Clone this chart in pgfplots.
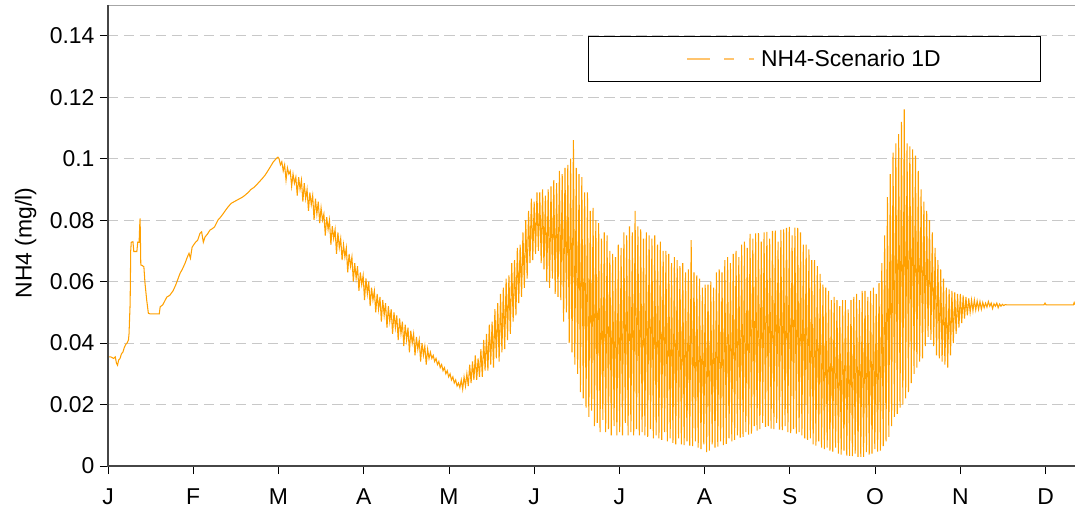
\documentclass[border=0pt]{standalone}
\usepackage{fontspec}
\setmainfont{Liberation Sans}
\usepackage{pgfplots}
\pgfplotsset{compat=1.18}
\definecolor{nhorange}{RGB}{255,160,0}
\definecolor{nhlight}{RGB}{255,196,110}
\definecolor{gridgray}{RGB}{200,200,200}
\definecolor{axisgray}{RGB}{70,70,70}

\begin{document}
\begin{tikzpicture}
\begin{axis}[
  at={(0,0)}, anchor=south west,
  scale only axis, width=967bp, height=461bp,
  xmin=0, xmax=344.9, ymin=0, ymax=0.15,
  clip=false,
  axis line style={draw=gray!70, line width=0.6bp},
  xtick={0,30.4,60.8,91.2,121.6,152,182.4,212.8,243.2,273.6,304,334.4},
  xticklabels={J,F,M,A,M,J,J,A,S,O,N,D},
  ytick={0,0.02,0.04,0.06,0.08,0.1,0.12,0.14},
  yticklabels={0,0.02,0.04,0.06,0.08,0.1,0.12,0.14},
  xtick pos=left, ytick pos=left,
  tick align=outside, major tick length=8bp,
  tick style={draw=black, line width=0.8bp},
  ymajorgrids,
  grid style={draw=gridgray, line width=0.8bp, dash pattern=on 10.5bp off 5.5bp},
  font=\fontsize{23}{27}\selectfont,
  tick label style={font=\fontsize{23}{27}\selectfont},
  x tick label style={yshift=-11bp},
  y tick label style={xshift=-2bp},
  ylabel={NH4 (mg/l)},
  ylabel style={at={(axis description cs:-0.085,0.484)}, anchor=center},
  legend style={at={(axis description cs:0.4964,0.9317)}, anchor=north west,
    draw=black, line width=0.8bp, inner xsep=98bp, inner ysep=11bp,
    font=\fontsize{23}{27}\selectfont},
]
\addplot[nhorange, line width=1.05bp, mark=none,
  legend image code/.code={
    \draw[nhlight, line width=1.5bp] (0bp,0bp) -- (23bp,0bp) (37bp,0bp) -- (47bp,0bp) (62bp,0bp) -- (67bp,0bp);
    \path[draw=none] (0bp,0bp) -- (72bp,0bp);}]
coordinates {
(0,0.0355) (1,0.0355) (2,0.0350) (2.6,0.0355) (3,0.0335) (3.4,0.0328) (3.8,0.0345) (4.3,0.0350)
(4.8,0.0365) (5.3,0.0370) (5.8,0.0385) (6.3,0.0395) (6.8,0.0400) (7.3,0.0410) (7.5,0.0430) (7.7,0.0480)
(7.9,0.0530) (8.1,0.0700) (8.3,0.0728) (8.9,0.0730) (9.2,0.0698) (10.3,0.0698) (10.6,0.0728) (11.1,0.0728)
(11.3,0.0780) (11.45,0.0806) (11.7,0.0654) (12.3,0.0652) (12.8,0.0648) (13.2,0.0595) (13.8,0.0540) (14.4,0.0497)
(15,0.0495) (17,0.0495) (18.3,0.0495) (18.6,0.0518) (19.5,0.0524) (21,0.0550) (22,0.0555) (23.2,0.0570)
(24.2,0.0590) (25.7,0.0627) (26.5,0.0640) (27.5,0.0660) (28.3,0.0680) (28.9,0.0692) (29.4,0.0676) (30,0.0712)
(31.2,0.0728) (32,0.0735) (32.8,0.0757) (33.4,0.0762) (34,0.0728) (34.6,0.0745) (35.5,0.0755) (36.4,0.0768)
(37.2,0.0772) (38,0.0778) (39.2,0.0800) (40,0.0808) (41,0.0820) (42,0.0833) (43,0.0845) (44,0.0855)
(45,0.0860) (46,0.0865) (47,0.0870) (48,0.0875) (49,0.0882) (50,0.0890) (51,0.0900) (52,0.0906)
(53,0.0915) (54,0.0925) (55,0.0935) (56,0.0946) (57,0.0960) (58,0.0975) (59,0.0990) (60,0.1000) (60.6,0.1005)
(61,0.100) (61.5,0.098) (62,0.099) (62.5,0.096) (63,0.098) (63.5,0.093) (64,0.097) (64.5,0.095)
(65,0.096) (65.5,0.091) (66,0.095) (66.5,0.092) (67,0.094) (67.5,0.088) (68,0.094) (68.5,0.090)
(69,0.093) (69.5,0.086) (70,0.092) (70.5,0.087) (71,0.090) (71.5,0.083) (72,0.089) (72.5,0.085)
(73,0.088) (73.5,0.080) (74,0.087) (74.5,0.082) (75,0.086) (75.5,0.079) (76,0.084) (76.5,0.080)
(77,0.082) (77.5,0.075) (78,0.081) (78.5,0.077) (79,0.080) (79.5,0.072) (80,0.078) (80.5,0.074)
(81,0.077) (81.5,0.069) (82,0.076) (82.5,0.071) (83,0.074) (83.5,0.067) (84,0.072) (84.5,0.068)
(85,0.071) (85.5,0.063) (86,0.069) (86.5,0.065) (87,0.068) (87.5,0.060) (88,0.066) (88.5,0.061)
(89,0.065) (89.5,0.057) (90,0.063) (90.5,0.059) (91,0.062) (91.5,0.054) (92,0.061) (92.5,0.056)
(93,0.060) (93.5,0.052) (94,0.058) (94.5,0.054) (95,0.057) (95.5,0.050) (96,0.056) (96.5,0.051)
(97,0.055) (97.5,0.047) (98,0.054) (98.5,0.049) (99,0.053) (99.5,0.045) (100,0.052) (100.5,0.047)
(101,0.051) (101.5,0.043) (102,0.050) (102.5,0.045) (103,0.049) (103.5,0.041) (104,0.048) (104.5,0.043)
(105,0.047) (105.5,0.039) (106,0.046) (106.5,0.041) (107,0.045) (107.5,0.037) (108,0.044) (108.5,0.040)
(109,0.043) (109.5,0.036) (110,0.042) (110.5,0.038) (111,0.041) (111.5,0.034) (112,0.040) (112.5,0.036)
(113,0.039) (113.5,0.033) (114,0.038) (114.5,0.035) (115,0.037) (115.5,0.035) (116,0.036) (116.5,0.034)
(117,0.035) (117.5,0.033) (118,0.034) (118.5,0.032) (119,0.033) (119.5,0.031) (120,0.032) (120.5,0.030)
(121,0.031) (121.5,0.029) (122,0.030) (122.5,0.028) (123,0.029) (123.5,0.027) (124,0.028) (124.5,0.026)
(125,0.027) (125.5,0.0255)
(126,0.028) (126.5,0.025) (127,0.029) (127.5,0.026) (128,0.030) (128.5,0.026) (129,0.033) (129.5,0.027)
(130,0.034) (130.5,0.028) (131,0.036) (131.5,0.028) (132,0.035) (132.5,0.029) (133,0.038) (133.5,0.029)
(134,0.041) (134.5,0.031) (135,0.043) (135.5,0.031) (136,0.046) (136.5,0.033) (137,0.047) (137.5,0.032)
(138,0.051) (138.5,0.035) (139,0.053) (139.5,0.034) (140,0.056) (140.5,0.037) (141,0.058) (141.5,0.038)
(142,0.061) (142.5,0.041) (143,0.062) (143.5,0.043) (144,0.066) (144.5,0.047) (145,0.067) (145.5,0.049)
(146,0.071) (146.5,0.053) (147,0.072) (147.5,0.055)
(148,0.076) (148.5,0.058) (149,0.080) (149.5,0.061) (150,0.083) (150.5,0.066) (151,0.087) (151.5,0.067)
(152,0.086) (152.5,0.069) (153,0.089) (153.5,0.070) (154,0.089) (154.5,0.066) (155,0.090) (155.5,0.064)
(156,0.088) (156.5,0.060) (157,0.090) (157.5,0.058) (158,0.091) (158.5,0.061) (159,0.093) (159.5,0.056)
(160,0.092) (160.5,0.055) (161,0.096) (161.5,0.054) (162,0.095) (162.5,0.047) (163,0.097) (163.5,0.050)
(164,0.098) (164.5,0.040) (165,0.100) (165.5,0.037) (166,0.106) (166.5,0.033) (167,0.097) (167.5,0.030)
(168,0.095) (168.5,0.024)
(169,0.094) (169.5,0.022) (170,0.089) (170.5,0.019) (171,0.089) (171.5,0.016) (172,0.083) (172.5,0.018)
(173,0.084) (173.5,0.013) (174,0.080) (174.5,0.014) (175,0.079) (175.5,0.011) (176,0.074) (176.5,0.015)
(177,0.076) (177.5,0.011) (178,0.075) (178.5,0.012) (179,0.070) (179.5,0.010) (180,0.069) (180.5,0.013)
(181,0.068) (181.5,0.010) (182,0.072) (182.5,0.011) (183,0.071) (183.5,0.010) (184,0.076) (184.5,0.014)
(185,0.075) (185.5,0.010) (186,0.078) (186.5,0.011) (187,0.076) (187.5,0.010) (188,0.083) (188.5,0.012)
(189,0.078) (189.5,0.010) (190,0.077) (190.5,0.011) (191,0.074) (191.5,0.010) (192,0.076) (192.5,0.0095)
(193,0.075) (193.5,0.012) (194,0.074) (194.5,0.009) (195,0.075) (195.5,0.010) (196,0.072) (196.5,0.009)
(197,0.073) (197.5,0.0085) (198,0.070) (198.5,0.011) (199,0.070) (199.5,0.008) (200,0.069) (200.5,0.009)
(201,0.066) (201.5,0.0075) (202,0.068) (202.5,0.007) (203,0.067) (203.5,0.009) (204,0.065) (204.5,0.007)
(205,0.066) (205.5,0.0068) (206,0.063) (206.5,0.008) (207,0.064) (207.5,0.0066) (208,0.0735) (208.5,0.0065)
(209,0.063) (209.5,0.008) (210,0.062) (210.5,0.006) (211,0.061) (211.5,0.0055) (212,0.058) (212.5,0.007)
(213,0.059) (213.5,0.0045) (214,0.059) (214.5,0.005) (215,0.060) (215.5,0.007) (216,0.058) (216.5,0.006)
(217,0.063) (217.5,0.0063) (218,0.064) (218.5,0.008) (219,0.063) (219.5,0.0068) (220,0.067) (220.5,0.0072)
(221,0.068) (221.5,0.009) (222,0.066) (222.5,0.008) (223,0.069) (223.5,0.0085) (224,0.070) (224.5,0.010)
(225,0.068) (225.5,0.0092) (226,0.072) (226.5,0.0095) (227,0.073) (227.5,0.011) (228,0.071) (228.5,0.0102)
(229,0.0755) (229.5,0.0105) (230,0.074) (230.5,0.013) (231,0.0757) (231.5,0.0115) (232,0.0758) (232.5,0.012)
(233,0.073) (233.5,0.014) (234,0.076) (234.5,0.0127) (235,0.0762) (235.5,0.013) (236,0.074) (236.5,0.0122)
(237,0.0765) (237.5,0.012) (238,0.0766) (238.5,0.014) (239,0.073) (239.5,0.0118) (240,0.0768) (240.5,0.0117)
(241,0.077) (241.5,0.013) (242,0.0775) (242.5,0.011) (243,0.0778) (243.5,0.0107) (244,0.075) (244.5,0.012)
(245,0.0776) (245.5,0.0105) (246,0.0775) (246.5,0.011) (247,0.076) (247.5,0.010) (248,0.072) (248.5,0.009)
(249,0.072) (249.5,0.0085) (250,0.0705) (250.5,0.009) (251,0.067) (251.5,0.007) (252,0.067) (252.5,0.0066)
(253,0.065) (253.5,0.008) (254,0.0625) (254.5,0.006) (255,0.059) (255.5,0.0055) (256,0.058) (256.5,0.006)
(257,0.057) (257.5,0.005) (258,0.054) (258.5,0.0047) (259,0.055) (259.5,0.006) (260,0.054) (260.5,0.004)
(261,0.052) (261.5,0.0037) (262,0.054) (262.5,0.005) (263,0.054) (263.5,0.0034) (264,0.051) (264.5,0.0033)
(265,0.054) (265.5,0.0032) (266,0.055) (266.5,0.004) (267,0.056) (267.5,0.003) (268,0.054) (268.5,0.003)
(269,0.057) (269.5,0.003) (270,0.057) (270.5,0.0045) (271,0.055) (271.5,0.0037) (272,0.057) (272.5,0.004)
(273,0.058) (273.5,0.0055) (274,0.056) (274.5,0.0047) (275,0.0595) (275.5,0.005) (276,0.066) (276.5,0.0065)
(277,0.075) (277.5,0.008) (278,0.0875) (278.5,0.0095) (279,0.095) (279.5,0.013) (280,0.102) (280.5,0.016)
(281,0.105) (281.5,0.017) (282,0.108) (282.5,0.019) (283,0.112) (283.5,0.020) (284,0.116) (284.5,0.022)
(285,0.105) (285.5,0.024) (286,0.104) (286.5,0.027) (287,0.103) (287.5,0.030) (288,0.101) (288.5,0.032)
(289,0.096) (289.5,0.034) (290,0.090) (290.5,0.035) (291,0.086) (291.5,0.039) (292,0.083) (292.5,0.042)
(293,0.080) (293.5,0.041) (294,0.076) (294.5,0.039) (295,0.071) (295.5,0.036) (296,0.067) (296.5,0.035)
(297,0.064) (297.5,0.034) (298,0.061) (298.5,0.033) (299,0.058) (299.5,0.032) (300,0.0575) (300.5,0.036)
(301,0.057) (301.5,0.040) (302,0.0565) (302.5,0.043) (303,0.056) (303.5,0.045) (304,0.056) (304.5,0.0465)
(305,0.0555) (305.5,0.048) (306,0.055) (306.5,0.049) (307,0.0545) (307.5,0.050) (308,0.054) (308.5,0.0505)
(309,0.054) (309.5,0.0508) (310,0.0537) (310.5,0.051) (311,0.0535) (311.5,0.051)
(312,0.0532) (312.5,0.0515) (313,0.0530) (313.5,0.0517) (314,0.0535) (314.5,0.0520) (315,0.0530) (315.5,0.0512)
(316,0.0528) (316.5,0.0520) (317,0.0530) (317.5,0.0515) (318,0.0527) (318.5,0.0520) (319,0.0526) (319.5,0.0522)
(320,0.0525) (321,0.0524) (333.8,0.0524) (334.2,0.0530) (334.6,0.0524) (344.3,0.0524) (344.6,0.0532) (344.9,0.0525)
};
\addlegendentry{NH4-Scenario 1D}
\draw[axisgray, line width=1.8bp] (rel axis cs:0,1) -- (rel axis cs:0,0) -- (rel axis cs:1,0);
\end{axis}
\pgfresetboundingbox
\path (-108bp,-48bp) rectangle (967bp,466bp);
\end{tikzpicture}
\end{document}
